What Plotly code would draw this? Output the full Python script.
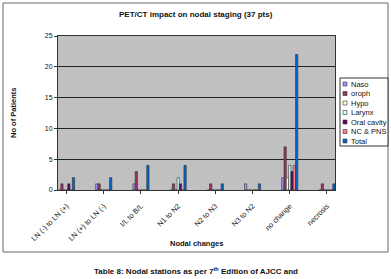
import plotly.graph_objects as go

categories = ["LN (-) to LN (+)", "LN (+) to LN (-)", "I/L to B/L", "N1 to N2",
              "N2 to N3", "N3 to N2", "no change", "necrosis"]
series_names = ["Naso", "oroph", "Hypo", "Larynx", "Oral cavity", "NC & PNS", "Total"]
naso = [0, 1, 1, 0, 0, 1, 2, 0]
oroph = [1, 1, 3, 1, 1, 0, 7, 1]
hypo = [0, 0, 0, 0, 0, 0, 2, 0]
larynx = [0, 0, 0, 2, 0, 0, 4, 0]
oral_cavity = [1, 0, 0, 1, 0, 0, 3, 0]
nc_pns = [0, 0, 0, 0, 0, 0, 4, 0]
total = [2, 2, 4, 4, 1, 1, 22, 1]
y_ticks = [0, 5, 10, 15, 20, 25]

series_values = [naso, oroph, hypo, larynx, oral_cavity, nc_pns, total]
colors = ["#9999FF", "#993366", "#FFFFCC", "#CCFFFF", "#660066", "#FF8080", "#0066CC"]

W, H = 391, 279
L, R, T, B = 58, 56, 36, 89
PW, PH = W - L - R, H - T - B


def xp(px):
    return (px - L) / PW


def yp(py):
    return (H - B - py) / PH


FONT = "Liberation Sans, Arial, sans-serif"

fig = go.Figure()
xs = list(range(len(categories)))
for name, vals, col in zip(series_names, series_values, colors):
    fig.add_trace(go.Bar(
        x=xs, y=vals, name=name, showlegend=False,
        marker=dict(color=col, line=dict(color="#333333", width=0.6)),
    ))

shapes = []
annotations = []

# outer chart border
shapes.append(dict(type="rect", xref="paper", yref="paper",
                   x0=xp(3), x1=xp(388), y0=yp(252), y1=yp(3),
                   line=dict(color="#666666", width=1), fillcolor="rgba(0,0,0,0)", layer="below"))

# manual legend
lx0, lx1, ly0, ly1 = 340, 388, 78, 146
shapes.append(dict(type="rect", xref="paper", yref="paper",
                   x0=xp(lx0), x1=xp(lx1), y0=yp(ly1), y1=yp(ly0),
                   line=dict(color="#333333", width=1), fillcolor="white"))
for i, (name, col) in enumerate(zip(series_names, colors)):
    cy = 84 + i * 9.5
    shapes.append(dict(type="rect", xref="paper", yref="paper",
                       x0=xp(343), x1=xp(347), y0=yp(cy + 2), y1=yp(cy - 2),
                       line=dict(color="#333333", width=0.6), fillcolor=col))
    annotations.append(dict(text=name, xref="paper", yref="paper",
                            x=xp(349), y=yp(cy), xanchor="left", yanchor="middle",
                            showarrow=False, font=dict(family=FONT, size=7.5, color="#111")))

# titles
annotations.append(dict(text="<b>PET/CT impact on nodal staging (37 pts)</b>",
                        xref="paper", yref="paper", x=xp(196), y=yp(15),
                        xanchor="center", yanchor="middle", showarrow=False,
                        font=dict(family=FONT, size=8, color="#111")))
annotations.append(dict(text="<b>No of Patients</b>", textangle=-90,
                        xref="paper", yref="paper", x=xp(13), y=yp(113),
                        xanchor="center", yanchor="middle", showarrow=False,
                        font=dict(family=FONT, size=7.5, color="#111")))
annotations.append(dict(text="<b>Nodal changes</b>",
                        xref="paper", yref="paper", x=xp(196), y=yp(243),
                        xanchor="center", yanchor="middle", showarrow=False,
                        font=dict(family=FONT, size=7.5, color="#111")))
annotations.append(dict(text="<b>Table 8: Nodal stations as per 7<sup>th</sup> Edition of AJCC and</b>",
                        xref="paper", yref="paper", x=xp(196), y=yp(271),
                        xanchor="center", yanchor="middle", showarrow=False,
                        font=dict(family=FONT, size=8, color="#111")))

fig.update_layout(
    width=W, height=H,
    margin=dict(l=L, r=R, t=T, b=B, autoexpand=False),
    paper_bgcolor="white", plot_bgcolor="#C0C0C0",
    barmode="group", bargap=0.565, bargroupgap=0.0,
    shapes=shapes, annotations=annotations,
    font=dict(family=FONT, size=7, color="#111"),
)
fig.update_xaxes(
    range=[-0.23, 7.216], tickvals=xs, ticktext=categories, tickangle=-45,
    ticks="outside", ticklen=3, tickcolor="#333", showgrid=False,
    showline=True, linecolor="#333", linewidth=1, mirror=True,
    ticklabelstandoff=5,
    tickfont=dict(family=FONT, size=7.3, color="#111"), zeroline=False,
)
fig.update_yaxes(
    range=[0, 25], tickvals=y_ticks, ticks="outside", ticklen=3, tickcolor="#333",
    showgrid=True, gridcolor="#222222", gridwidth=0.8,
    showline=True, linecolor="#333", linewidth=1, mirror=True, zeroline=False,
    tickfont=dict(family=FONT, size=7, color="#111"),
)

fig.write_html("out.html")
